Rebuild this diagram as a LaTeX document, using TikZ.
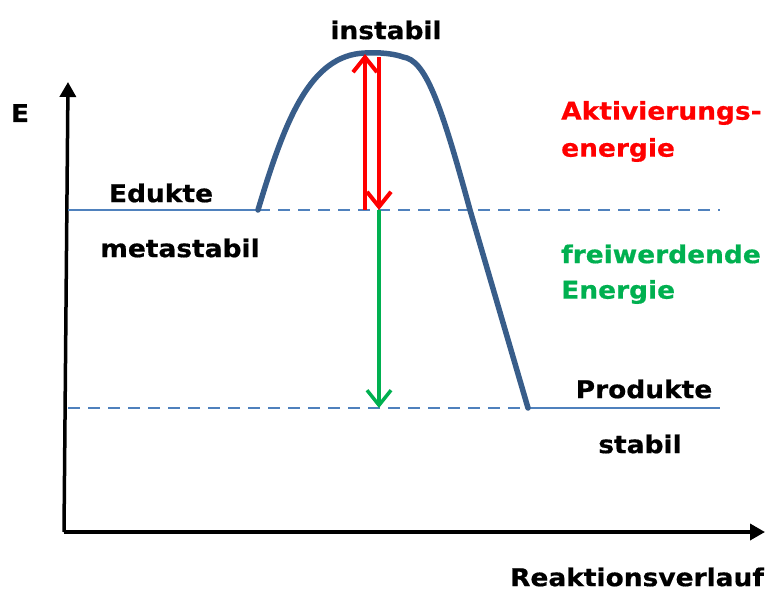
\documentclass[tikz,border=0pt]{standalone}
\usepackage{fontspec}
\setmainfont{DejaVu Sans}[BoldFeatures={FakeStretch=1.08,FakeBold=0.6}]
\usetikzlibrary{arrows.meta}
\definecolor{kurve}{RGB}{56,93,138}
\definecolor{niveaublau}{RGB}{79,129,189}
\definecolor{gruen}{RGB}{0,176,80}
\tikzset{
  achse/.style={line width=3.5pt,-{Triangle[length=15pt,width=16pt]}},
  niveau/.style={niveaublau,line width=1.6pt},
  gestrichelt/.style={niveaublau,line width=1.6pt,dash pattern=on 12pt off 8pt},
  pfeil/.style={line width=4pt,-{Straight Barb[length=15pt,width=24pt]}},
  txt/.style={font=\bfseries\fontsize{24.5}{28}\selectfont,inner sep=0pt}
}
\begin{document}
\begin{tikzpicture}[x=1pt,y=-1pt]
\useasboundingbox (0,0) rectangle (765,589);
\coordinate (O) at (64,532);
\coordinate (ytip) at (68,82);
\coordinate (xtip) at (765,532);
\draw[achse] (O) -- (ytip);
\draw[achse] (O) -- (xtip);
% Energieniveaus
\coordinate (eda) at (68,210);\coordinate (edb) at (258,210);\coordinate (edc) at (720,210);
\coordinate (pra) at (68,408);\coordinate (prb) at (528,408);\coordinate (prc) at (720,408);
\draw[niveau] (eda) -- (edb);
\draw[gestrichelt] (edb) -- (edc);
\draw[gestrichelt] (pra) -- (prb);
\draw[niveau] (prb) -- (prc);
% Kurve
\coordinate (gipfa) at (365,53);\coordinate (gipfb) at (403,57);\coordinate (abst) at (470,210);
\draw[kurve,line width=5.5pt,line cap=round,line join=round] (edb) .. controls (285,120) and (310,55) .. (gipfa)
  .. controls (380,52) and (395,54) .. (gipfb) .. controls (425,60) and (440,100) .. (abst) -- (prb);
% Pfeile
\coordinate (ra) at (365,210);\coordinate (rb) at (365,54);
\coordinate (rc) at (379,57);\coordinate (rd) at (379,210);\coordinate (gd) at (379,408);
\draw[pfeil,red] (ra) -- (rb);
\draw[pfeil,red] (rc) -- (rd);
\draw[pfeil,gruen,line width=3.5pt] (rd) -- (gd);
% Texte
\node[txt] (E) at (20,113) {E};
\node[txt] (instabil) at (386,30) {instabil};
\node[txt] (edukte) at (161,193) {Edukte};
\node[txt] (meta) at (180,248) {metastabil};
\node[txt,anchor=west,red] (akt) at (561,113) {Aktivierungs-};
\node[txt,anchor=west,red] (aktb) at (561,150) {energie};
\node[txt,anchor=west,gruen] (frei) at (561,254) {freiwerdende};
\node[txt,anchor=west,gruen] (freib) at (561,292) {Energie};
\node[txt] (produkte) at (644,389) {Produkte};
\node[txt] (stabil) at (640,444) {stabil};
\node[txt] (verlauf) at (637,577) {Reaktionsverlauf};
\end{tikzpicture}
\end{document}
